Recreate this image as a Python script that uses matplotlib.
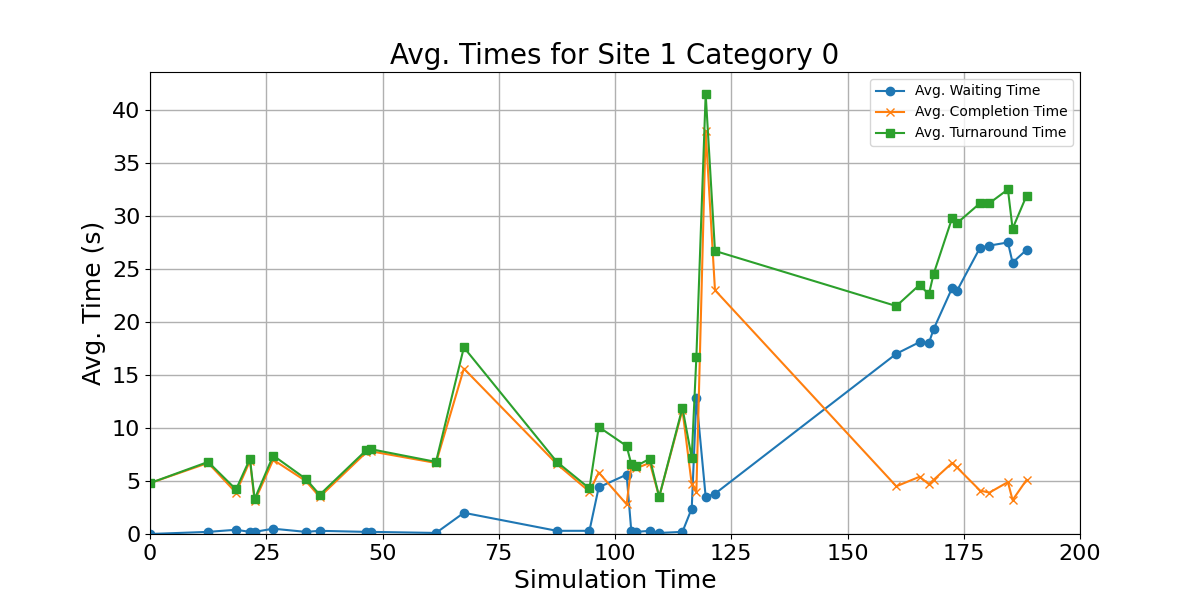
import matplotlib
matplotlib.use("Agg")
import matplotlib.pyplot as plt

sim_time = [0, 12.5, 18.5, 21.5, 22.5, 26.5, 33.5, 36.5, 46.5, 47.5, 61.5, 67.5,
            87.5, 94.5, 96.5, 102.5, 103.5, 104.5, 107.5, 109.5, 114.5, 116.5,
            117.5, 119.5, 121.5, 160.5, 165.5, 167.5, 168.5, 172.5, 173.5, 178.5,
            180.5, 184.5, 185.5, 188.5]
waiting = [0, 0.2, 0.4, 0.2, 0.2, 0.5, 0.2, 0.3, 0.2, 0.2, 0.1, 2.0,
           0.3, 0.3, 4.4, 5.6, 0.3, 0.2, 0.3, 0.1, 0.2, 2.4,
           12.8, 3.5, 3.8, 17.0, 18.1, 18.0, 19.3, 23.2, 22.9, 27.0,
           27.2, 27.5, 25.6, 26.8]
completion = [4.8, 6.7, 3.9, 6.9, 3.1, 7.0, 5.0, 3.5, 7.7, 7.8, 6.7, 15.6,
              6.6, 4.0, 5.8, 2.8, 6.4, 6.2, 6.7, 3.5, 11.7, 4.7,
              4.0, 38.0, 23.0, 4.5, 5.4, 4.7, 5.1, 6.7, 6.3, 4.1,
              3.9, 4.9, 3.2, 5.1]
turnaround = [4.8, 6.8, 4.2, 7.1, 3.3, 7.4, 5.2, 3.7, 7.9, 8.0, 6.8, 17.6,
              6.8, 4.3, 10.1, 8.3, 6.6, 6.4, 7.1, 3.5, 11.9, 7.2,
              16.7, 41.5, 26.7, 21.5, 23.5, 22.6, 24.5, 29.8, 29.3, 31.2,
              31.2, 32.5, 28.8, 31.9]

fig, ax = plt.subplots(figsize=(12, 6), dpi=100)
ax.plot(sim_time, waiting, marker="o", label="Avg. Waiting Time")
ax.plot(sim_time, completion, marker="x", label="Avg. Completion Time")
ax.plot(sim_time, turnaround, marker="s", label="Avg. Turnaround Time")

ax.set_xlim(0, 200)
ax.set_ylim(0, None)
ax.set_title("Avg. Times for Site 1 Category 0", fontsize=20)
ax.set_xlabel("Simulation Time", fontsize=18)
ax.set_ylabel("Avg. Time (s)", fontsize=18)
ax.tick_params(labelsize=16)
ax.grid(True, linewidth=1)
ax.legend(loc="upper right", fontsize=10)

plt.savefig("out.png", dpi=100)
